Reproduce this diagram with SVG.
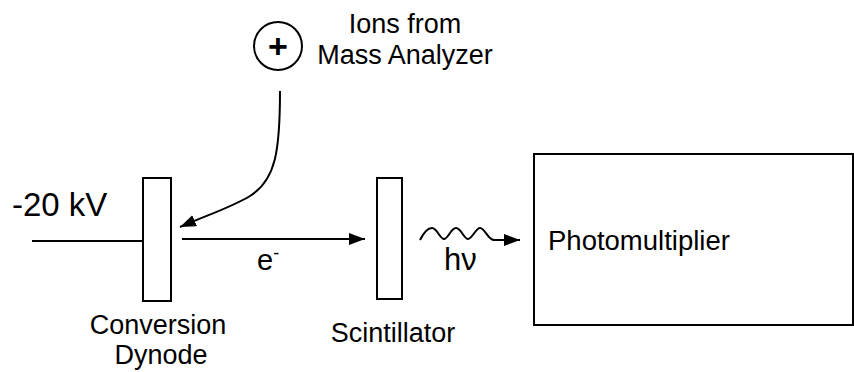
<svg xmlns="http://www.w3.org/2000/svg" width="854" height="372" viewBox="0 0 854 372">
  <style>
    .lbl { font-family: "Liberation Sans", Arial, sans-serif; font-size: 27px; fill: #000; }
    .box { fill: #fff; stroke: #000; stroke-width: 2; }
    .ln { fill: none; stroke: #000; stroke-width: 2; }
  </style>
  <defs>
    <marker id="arr" markerUnits="userSpaceOnUse" markerWidth="17" markerHeight="12" refX="16" refY="6" orient="auto">
      <path d="M0,0 L16,6 L0,12 z" fill="#000"/>
    </marker>
  </defs>
  <rect width="854" height="372" fill="#fff"/>

  <g id="connectors">
    <line class="ln" x1="32" y1="241" x2="143" y2="241"/>
    <path class="ln" d="M280,91 C280,150 276,180 250,196 C232,207 210,214 180,227" marker-end="url(#arr)"/>
    <line class="ln" x1="182" y1="239" x2="365" y2="239" marker-end="url(#arr)"/>
    <path class="ln" d="M420,240 C424,232 428,228 432,228 C437,228 440,239 444,239 C448,239 451,228 456,228 C461,228 464,239 468,239 C472,239 476,228 480,228 C485,228 488,240 494,240 L520,240" marker-end="url(#arr)"/>
    <text class="lbl" x="257" y="270" style="font-size:29px">e<tspan dy="-11" style="font-size:18px">-</tspan></text>
    <text class="lbl" x="444" y="270" style="font-size:31px">hν</text>
  </g>

  <g id="voltage">
    <text class="lbl" x="12" y="216" style="font-size:33px">-20 kV</text>
  </g>

  <g id="ion-source">
    <circle cx="278" cy="46" r="24" fill="#fff" stroke="#000" stroke-width="2"/>
    <text class="lbl" x="278" y="58" text-anchor="middle" style="font-size:34px;font-weight:bold">+</text>
    <text class="lbl" x="405" y="33" text-anchor="middle">Ions from</text>
    <text class="lbl" x="405" y="64" text-anchor="middle">Mass Analyzer</text>
  </g>

  <g id="conversion-dynode">
    <rect class="box" x="143" y="178" width="28" height="123"/>
    <text class="lbl" x="158" y="334" text-anchor="middle">Conversion</text>
    <text class="lbl" x="161" y="364" text-anchor="middle">Dynode</text>
  </g>

  <g id="scintillator">
    <rect class="box" x="377" y="178" width="25" height="121"/>
    <text class="lbl" x="393" y="342" text-anchor="middle">Scintillator</text>
  </g>

  <g id="photomultiplier">
    <rect class="box" x="534" y="154" width="319" height="171"/>
    <text class="lbl" x="548" y="250" style="font-size:27.5px">Photomultiplier</text>
  </g>
</svg>
